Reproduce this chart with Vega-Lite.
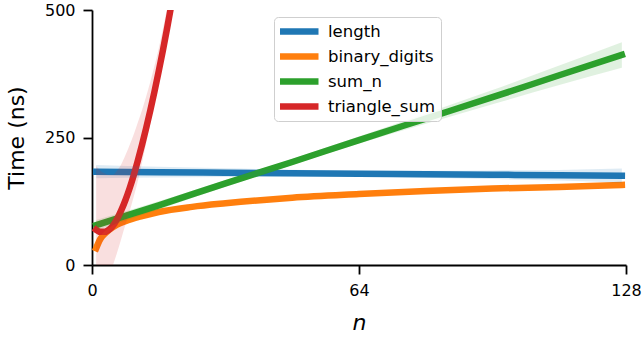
{
  "$schema": "https://vega.github.io/schema/vega-lite/v6.json",
  "width": 534,
  "height": 255,
  "autosize": {"type": "none"},
  "padding": {"left": 92, "top": 10, "right": 18, "bottom": 73},
  "background": "white",
  "config": {
    "font": "DejaVu Sans",
    "view": {"stroke": null},
    "axis": {
      "grid": false,
      "domainColor": "black",
      "domainWidth": 1.8,
      "tickColor": "black",
      "tickWidth": 1.8,
      "tickSize": 9,
      "labelFontSize": 16,
      "labelColor": "black",
      "labelPadding": 8,
      "labelFlush": false,
      "titleFontSize": 22,
      "titleFontWeight": "normal",
      "titleColor": "black",
      "labelFont": "DejaVu Sans",
      "titleFont": "DejaVu Sans"
    },
    "legend": {
      "orient": "none",
      "legendX": 182,
      "legendY": 7,
      "title": null,
      "symbolType": "stroke",
      "symbolSize": 1600,
      "symbolStrokeWidth": 6.5,
      "symbolOpacity": 1,
      "clipHeight": 17,
      "symbolOffset": -5,
      "labelFontSize": 16.5,
      "labelFont": "DejaVu Sans",
      "labelColor": "black",
      "labelOffset": 6,
      "rowPadding": 8,
      "padding": 6,
      "fillColor": "rgba(255,255,255,0.85)",
      "strokeColor": "#cfcfcf",
      "cornerRadius": 4
    }
  },
  "data": {
    "values": [
      {"series": "length", "n": 1, "value": 183, "lo": 170, "hi": 196},
      {"series": "length", "n": 16, "value": 182, "lo": 171.5, "hi": 192.5},
      {"series": "length", "n": 32, "value": 181, "lo": 172.5, "hi": 189.5},
      {"series": "length", "n": 48, "value": 180, "lo": 173.2, "hi": 186.8},
      {"series": "length", "n": 64, "value": 179, "lo": 173, "hi": 185},
      {"series": "length", "n": 80, "value": 178, "lo": 171.2, "hi": 184.8},
      {"series": "length", "n": 96, "value": 177, "lo": 168.5, "hi": 185.5},
      {"series": "length", "n": 112, "value": 176, "lo": 165.5, "hi": 186.5},
      {"series": "length", "n": 127, "value": 175, "lo": 161, "hi": 189},

      {"series": "binary_digits", "n": 1, "value": 33, "lo": 25, "hi": 41},
      {"series": "binary_digits", "n": 2, "value": 51, "lo": 45, "hi": 57},
      {"series": "binary_digits", "n": 3, "value": 61, "lo": 56, "hi": 66},
      {"series": "binary_digits", "n": 4, "value": 68, "lo": 63.5, "hi": 72.5},
      {"series": "binary_digits", "n": 6, "value": 79, "lo": 75, "hi": 83},
      {"series": "binary_digits", "n": 8, "value": 86, "lo": 82, "hi": 90},
      {"series": "binary_digits", "n": 12, "value": 96, "lo": 92.5, "hi": 99.5},
      {"series": "binary_digits", "n": 16, "value": 104, "lo": 100.5, "hi": 107.5},
      {"series": "binary_digits", "n": 24, "value": 114, "lo": 111, "hi": 117},
      {"series": "binary_digits", "n": 32, "value": 121, "lo": 118, "hi": 124},
      {"series": "binary_digits", "n": 48, "value": 132, "lo": 129, "hi": 135},
      {"series": "binary_digits", "n": 64, "value": 139, "lo": 136, "hi": 142},
      {"series": "binary_digits", "n": 80, "value": 145, "lo": 142, "hi": 148},
      {"series": "binary_digits", "n": 96, "value": 150, "lo": 146.5, "hi": 153.5},
      {"series": "binary_digits", "n": 112, "value": 153, "lo": 149, "hi": 157},
      {"series": "binary_digits", "n": 127, "value": 157, "lo": 152.5, "hi": 161.5},

      {"series": "sum_n", "n": 1, "value": 78, "lo": 68, "hi": 88},
      {"series": "sum_n", "n": 16, "value": 117, "lo": 109, "hi": 125},
      {"series": "sum_n", "n": 32, "value": 160, "lo": 153.5, "hi": 166.5},
      {"series": "sum_n", "n": 48, "value": 202, "lo": 196, "hi": 208},
      {"series": "sum_n", "n": 64, "value": 245, "lo": 238, "hi": 252},
      {"series": "sum_n", "n": 80, "value": 287, "lo": 277, "hi": 297},
      {"series": "sum_n", "n": 96, "value": 329, "lo": 315, "hi": 343},
      {"series": "sum_n", "n": 112, "value": 372, "lo": 353, "hi": 391},
      {"series": "sum_n", "n": 127, "value": 412, "lo": 387, "hi": 437},

      {"series": "triangle_sum", "n": 1, "value": 69, "lo": -56, "hi": 194},
      {"series": "triangle_sum", "n": 2, "value": 65, "lo": -53, "hi": 185},
      {"series": "triangle_sum", "n": 3, "value": 65, "lo": -45, "hi": 180},
      {"series": "triangle_sum", "n": 4, "value": 69, "lo": -26, "hi": 177},
      {"series": "triangle_sum", "n": 5, "value": 77, "lo": -1, "hi": 177},
      {"series": "triangle_sum", "n": 6, "value": 90, "lo": 24, "hi": 185},
      {"series": "triangle_sum", "n": 7, "value": 107, "lo": 51, "hi": 197},
      {"series": "triangle_sum", "n": 8, "value": 127, "lo": 79, "hi": 215},
      {"series": "triangle_sum", "n": 9, "value": 150, "lo": 105, "hi": 235},
      {"series": "triangle_sum", "n": 10, "value": 176, "lo": 134, "hi": 256},
      {"series": "triangle_sum", "n": 11, "value": 205, "lo": 165, "hi": 280},
      {"series": "triangle_sum", "n": 12, "value": 236, "lo": 201, "hi": 304},
      {"series": "triangle_sum", "n": 13, "value": 269, "lo": 239, "hi": 331},
      {"series": "triangle_sum", "n": 14, "value": 304, "lo": 279, "hi": 360},
      {"series": "triangle_sum", "n": 15, "value": 341, "lo": 321, "hi": 391},
      {"series": "triangle_sum", "n": 16, "value": 380, "lo": 362, "hi": 425},
      {"series": "triangle_sum", "n": 17, "value": 421, "lo": 405, "hi": 463},
      {"series": "triangle_sum", "n": 18, "value": 464, "lo": 449, "hi": 504},
      {"series": "triangle_sum", "n": 19, "value": 509, "lo": 494, "hi": 547},
      {"series": "triangle_sum", "n": 20, "value": 556, "lo": 541, "hi": 594}
    ]
  },
  "encoding": {
    "x": {
      "field": "n",
      "type": "quantitative",
      "scale": {"domain": [0, 128], "nice": false, "zero": false},
      "axis": {"values": [0, 64, 128], "title": "n", "titleFontStyle": "italic", "titlePadding": 14}
    },
    "color": {
      "field": "series",
      "type": "nominal",
      "scale": {
        "domain": ["length", "binary_digits", "sum_n", "triangle_sum"],
        "range": ["#1f77b4", "#ff7f0e", "#2ca02c", "#d62728"]
      }
    }
  },
  "layer": [
    {
      "mark": {"type": "line", "strokeWidth": 6.5, "strokeCap": "square", "clip": true, "interpolate": "monotone"},
      "encoding": {
        "y": {
          "field": "value",
          "type": "quantitative",
          "scale": {"domain": [0, 500], "nice": false},
          "axis": {"values": [0, 250, 500], "title": "Time (ns)", "titlePadding": 16}
        },
        "order": {"field": "n", "type": "quantitative"}
      }
    },
    {
      "mark": {"type": "area", "fillOpacity": 0.15, "clip": true, "interpolate": "monotone"},
      "encoding": {
        "y": {"field": "lo", "type": "quantitative", "stack": null},
        "y2": {"field": "hi"}
      }
    }
  ]
}
